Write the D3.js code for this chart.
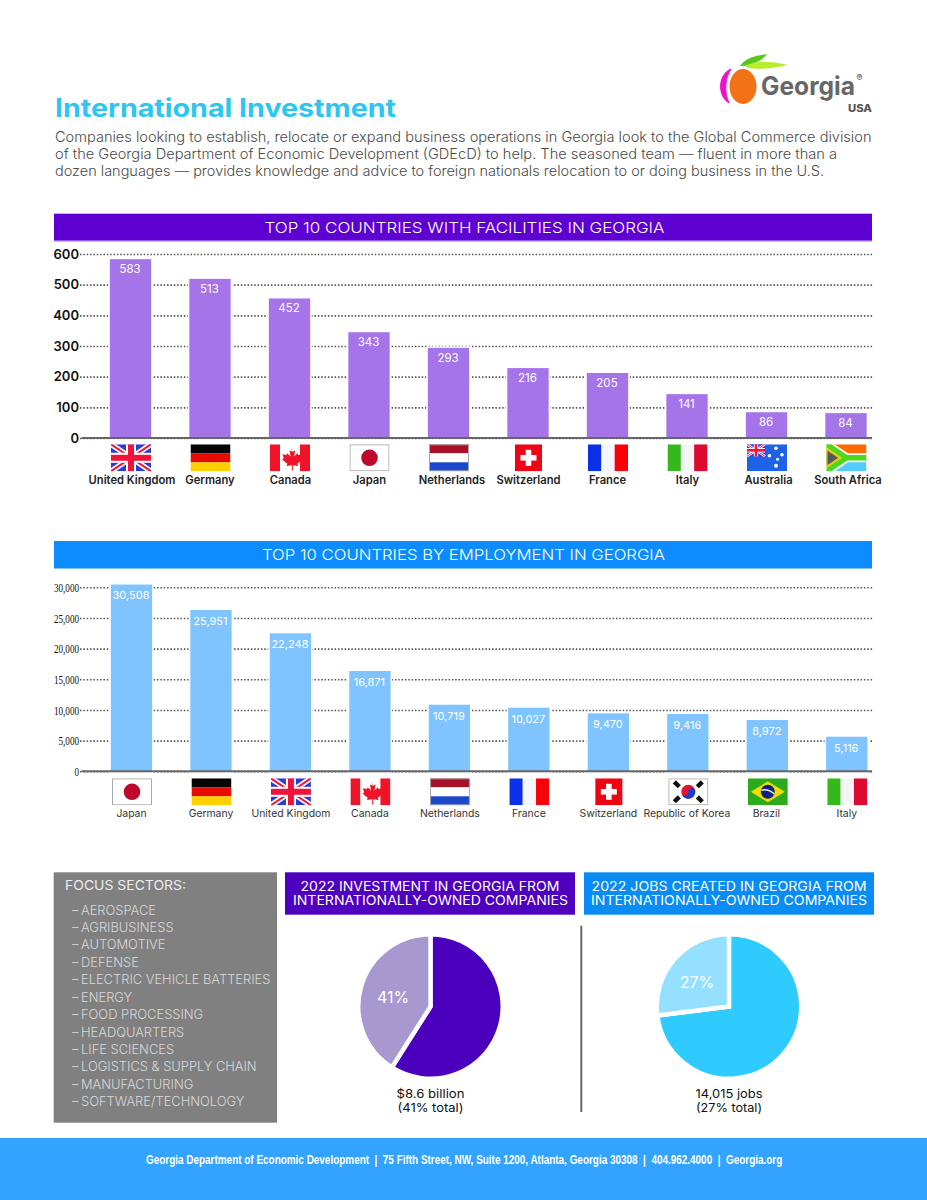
<!DOCTYPE html>
<html lang="en">
<head>
<meta charset="utf-8">
<title>International Investment</title>
<script src="https://cdn.jsdelivr.net/npm/d3@7"></script>
<style>
  body { margin: 0; background: #fff; }
  svg { display: block; }
  text { font-family: Inter, "Noto Sans", sans-serif; }
</style>
</head>
<body>
<div id="bod"></div>
<script>
let facilityCountries = ["United Kingdom", "Germany", "Canada", "Japan", "Netherlands", "Switzerland", "France", "Italy", "Australia", "South Africa"]
let facilityBars = [583, 519, 455, 345, 294, 228, 212, 143, 84, 81]
let facilityLabels = ["583", "513", "452", "343", "293", "216", "205", "141", "86", "84"]
let facilityTicks = [0, 100, 200, 300, 400, 500, 600]

// employment chart
let employmentCountries = ["Japan", "Germany", "United Kingdom", "Canada", "Netherlands", "France", "Switzerland", "Republic of Korea", "Brazil", "Italy"]
let employmentBars = [30450, 26300, 22500, 16350, 10860, 10370, 9450, 9340, 8360, 5640]
let employmentLabels = ["30,508", "25,951", "22,248", "16,871", "10,719", "10,027", "9,470", "9,416", "8,972", "5,116"]
let employmentTicks = [0, 5000, 10000, 15000, 20000, 25000, 30000]

// pies
let investmentShares = [59, 41]
let jobShares = [73, 27]

let sectors = ["AEROSPACE", "AGRIBUSINESS", "AUTOMOTIVE", "DEFENSE", "ELECTRIC VEHICLE BATTERIES", "ENERGY", "FOOD PROCESSING", "HEADQUARTERS", "LIFE SCIENCES", "LOGISTICS & SUPPLY CHAIN", "MANUFACTURING", "SOFTWARE/TECHNOLOGY"]

let introLines = [
  "Companies looking to establish, relocate or expand business operations in Georgia look to the Global Commerce division",
  "of the Georgia Department of Economic Development (GDEcD) to help. The seasoned team \u2014 fluent in more than a",
  "dozen languages \u2014 provides knowledge and advice to foreign nationals relocation to or doing business in the U.S."
]

let svg = d3.select("#bod").append("svg").attr("width", 927).attr("height", 1200)

let defs = svg.append("defs")
defs.append("clipPath").attr("id", "flagClip").append("rect").attr("width", 40).attr("height", 27)

// text with a forced width so the lines end where the originals end
function label(parent, str, x, y, size, color, weight, width, anchor) {
  let t = parent.append("text")
    .attr("x", x)
    .attr("y", y)
    .attr("dy", ".35em")
    .attr("font-size", size)
    .attr("font-weight", weight || 400)
    .attr("fill", color)
    .attr("text-anchor", anchor || "start")
    .text(str)
  if (width) t.attr("textLength", width).attr("lengthAdjust", "spacingAndGlyphs")
  return t
}

function box(g, x, y, w, h, color) {
  return g.append("rect").attr("x", x).attr("y", y).attr("width", w).attr("height", h).attr("fill", color)
}

function stripesH(g, colors) {
  let h = 27 / colors.length
  colors.forEach(function(c, i) { box(g, 0, i * h, 40, h + 0.1, c) })
}

function stripesV(g, colors) {
  let w = 40 / colors.length
  colors.forEach(function(c, i) { box(g, i * w, 0, w + 0.1, 27, c) })
}

function outline(g, w) {
  g.append("rect").attr("x", 0.5).attr("y", 0.5).attr("width", (w || 40) - 1).attr("height", 26)
    .attr("fill", "none").attr("stroke", "#a8a8a8").attr("stroke-width", 1)
}

function union(g, w, h) {
  let sw = h / 27
  box(g, 0, 0, w, h, "#2b3bd6")
  let diag = g.append("g")
  ;[[0, 0, w, h], [w, 0, 0, h]].forEach(function(l) {
    diag.append("line").attr("x1", l[0]).attr("y1", l[1]).attr("x2", l[2]).attr("y2", l[3]).attr("stroke", "#fff").attr("stroke-width", 5.5 * sw)
    diag.append("line").attr("x1", l[0]).attr("y1", l[1]).attr("x2", l[2]).attr("y2", l[3]).attr("stroke", "#f0143c").attr("stroke-width", 2 * sw)
  })
  box(g, w / 2 - 5 * sw, 0, 10 * sw, h, "#fff")
  box(g, 0, h / 2 - 5 * sw, w, 10 * sw, "#fff")
  box(g, w / 2 - 3 * sw, 0, 6 * sw, h, "#f0143c")
  box(g, 0, h / 2 - 3 * sw, w, 6 * sw, "#f0143c")
}

let flags = {
  "United Kingdom": function(g) { union(g, 40, 27) },
  "Germany": function(g) { stripesH(g, ["#050505", "#e60a00", "#ffcf00"]) },
  "Canada": function(g) {
    stripesV(g, ["#f01428", "#fff", "#fff", "#f01428"])
    g.append("path").attr("fill", "#f01428")
      .attr("transform", "translate(-3.6,-2.6) scale(1.18)")
      .attr("d", "M20 4.5l2.2 4 2.2-1.1-.9 5.2 2.8-2.9.7 1.6 3.4-.6-1.1 3.5 1.4.8-4.4 3.6.6 1.9-4.5-.6.1 4.6h-1l.1-4.6-4.5.6.6-1.9-4.4-3.6 1.4-.8-1.1-3.5 3.4.6.7-1.6 2.8 2.9-.9-5.2 2.2 1.1z")
  },
  "Japan": function(g) {
    box(g, 0, 0, 40, 27, "#fff")
    g.append("circle").attr("cx", 20).attr("cy", 13.5).attr("r", 8.3).attr("fill", "#bd0a2c")
    outline(g)
  },
  "Netherlands": function(g) {
    stripesH(g, ["#a8102a", "#fff", "#1c48cc"])
    outline(g)
  },
  "Switzerland": function(g) {
    box(g, 6.5, 0, 27, 27, "#ee0414")
    box(g, 17.2, 5.5, 5.6, 16, "#fff")
    box(g, 12, 10.7, 16, 5.6, "#fff")
  },
  "France": function(g) { stripesV(g, ["#0a30e8", "#f3f6fb", "#fa0008"]) },
  "Italy": function(g) { stripesV(g, ["#35b81c", "#f3f5f7", "#dc0a30"]) },
  "Australia": function(g) {
    box(g, 0, 0, 40, 27, "#1e62e8")
    union(g.append("g"), 18, 12)
    ;[[29, 4, 1.8], [22.5, 11.5, 1.8], [35, 10.5, 1.8], [30.5, 15, 1.5], [29, 21.5, 2]].forEach(function(s) {
      g.append("circle").attr("cx", s[0]).attr("cy", s[1]).attr("r", s[2]).attr("fill", "#fff")
    })
  },
  "South Africa": function(g) {
    box(g, 0, 0, 40, 13.5, "#ff6a00")
    box(g, 0, 13.5, 40, 13.5, "#55ccff")
    g.append("path").attr("d", "M0 0L20 13.5H40M0 27L20 13.5").attr("fill", "none").attr("stroke", "#fff").attr("stroke-width", 9)
    g.append("path").attr("d", "M0 0L20 13.5H40M0 27L20 13.5").attr("fill", "none").attr("stroke", "#4cd81c").attr("stroke-width", 5.5)
    g.append("path").attr("d", "M0 4.5L13.5 13.5L0 22.5Z").attr("fill", "#4e5a60").attr("stroke", "#f2c400").attr("stroke-width", 2)
  },
  "Republic of Korea": function(g) {
    box(g, 0, 0, 40, 27, "#fff")
    g.append("circle").attr("cx", 20).attr("cy", 13.5).attr("r", 7).attr("fill", "#e8142c")
    g.append("path").attr("d", "M13 13.5a3.5 3.5 0 0 0 7 0a3.5 3.5 0 0 1 7 0a7 7 0 0 1 -14 0").attr("fill", "#1a3fd0")
    ;[[8.5, 6, 45], [31.5, 6, -45], [8.5, 21, -45], [31.5, 21, 45]].forEach(function(b) {
      g.append("rect").attr("x", -3.5).attr("y", -2.2).attr("width", 7).attr("height", 4.4).attr("fill", "#111")
        .attr("transform", "translate(" + b[0] + "," + b[1] + ") rotate(" + b[2] + ")")
    })
    outline(g)
  },
  "Brazil": function(g) {
    box(g, 0, 0, 40, 27, "#2caa1e")
    g.append("path").attr("d", "M20 3L37 13.5L20 24L3 13.5Z").attr("fill", "#f2dc00")
    g.append("circle").attr("cx", 20).attr("cy", 13.5).attr("r", 7).attr("fill", "#12217e")
    g.append("path").attr("d", "M13.5 12Q20 10 26.5 15.5").attr("fill", "none").attr("stroke", "#d8f0e8").attr("stroke-width", 1.6)
  }
}

function drawChart(cfg) {
  let g = svg.append("g")

  let x = d3.scaleBand()
    .domain(cfg.countries)
    .range(cfg.xRange)
    .paddingInner(0.48)
    .paddingOuter(0.24)

  let y = d3.scaleLinear()
    .domain([0, d3.max(cfg.ticks)])
    .range([cfg.y0, cfg.yTop])

  let yAxis = d3.axisLeft(y)
    .tickValues(cfg.ticks)
    .tickSize(-792.5)
    .tickPadding(1)
    .tickFormat(cfg.tickFormat)

  let axisG = g.append("g").attr("transform", "translate(80,0)").call(yAxis)
  axisG.select(".domain").remove()
  axisG.selectAll("line")
    .attr("stroke", "#555")
    .attr("stroke-width", 1.6)
    .attr("stroke-dasharray", "1.5 1.85")
  axisG.selectAll("text")
    .attr("fill", "#111")
    .style("font-family", cfg.tickFont)
    .attr("font-size", cfg.tickSize)
    .attr("font-weight", cfg.tickWeight)
  if (cfg.tickSquash) {
    axisG.selectAll("text").each(function() {
      d3.select(this)
        .attr("textLength", this.getComputedTextLength() * cfg.tickSquash)
        .attr("lengthAdjust", "spacingAndGlyphs")
    })
  }

  g.selectAll(".bar")
    .data(cfg.bars)
    .enter().append("rect")
    .attr("class", "bar")
    .attr("x", function(d, i) { return x(cfg.countries[i]) })
    .attr("y", function(d) { return y(d) })
    .attr("width", x.bandwidth())
    .attr("height", function(d) { return cfg.y0 - y(d) })
    .attr("fill", cfg.barColor)
    .attr("stroke", "#fff")
    .attr("stroke-width", 3)
    .style("paint-order", "stroke")

  g.selectAll(".val")
    .data(cfg.labels)
    .enter().append("text")
    .attr("class", "val")
    .attr("x", function(d, i) { return x(cfg.countries[i]) + x.bandwidth() / 2 - 0.5 })
    .attr("y", function(d, i) { return y(cfg.bars[i]) + cfg.labelGap })
    .attr("dy", ".35em")
    .attr("text-anchor", "middle")
    .attr("fill", "#fff")
    .attr("font-size", cfg.labelSize)
    .attr("font-weight", 400)
    .text(function(d) { return d })

  g.append("line")
    .attr("x1", 81.5).attr("x2", 872)
    .attr("y1", cfg.y0).attr("y2", cfg.y0)
    .attr("stroke", "#666").attr("stroke-width", 2)

  let xAxis = d3.axisBottom(x).tickSize(0).tickPadding(cfg.namePad)
  let nameG = g.append("g").attr("transform", "translate(0," + cfg.y0 + ")").call(xAxis)
  nameG.select(".domain").remove()
  nameG.selectAll("text")
    .attr("fill", cfg.nameColor)
    .style("font-family", "Inter, sans-serif")
    .attr("font-size", cfg.nameSize)
    .attr("font-weight", cfg.nameWeight)
    .attr("dx", function(d, i) { return cfg.nameNudge[i] })

  cfg.countries.forEach(function(c) {
    let f = g.append("g")
      .attr("transform", "translate(" + (x(c) + x.bandwidth() / 2 - 19.5) + "," + (cfg.y0 + cfg.flagGap) + ")")
      .attr("clip-path", "url(#flagClip)")
    flags[c](f)
  })
}

function drawPie(cfg) {
  let g = svg.append("g").attr("transform", "translate(" + cfg.cx + ",1006.5)")
  let pie = d3.pie().sort(null)
  // white stroke makes the even gap between slices, radius allows for it
  let arc = d3.arc().innerRadius(0).outerRadius(72.2)
  g.selectAll("path")
    .data(pie(cfg.shares))
    .enter().append("path")
    .attr("d", arc)
    .attr("fill", function(d, i) { return cfg.colors[i] })
    .attr("stroke", "#fff")
    .attr("stroke-width", 4.4)
  label(svg, cfg.share, cfg.labelX, cfg.labelY, 16, "#fff", 400, null, "middle")
  label(svg, cfg.cap1, cfg.cx, 1094, 12, "#111", 400, cfg.capW1, "middle")
  label(svg, cfg.cap2, cfg.cx, 1108, 12, "#111", 400, cfg.capW2, "middle")
}

// logo
let logo = svg.append("g")
logo.append("path").attr("d", "M731 69C718 74 717 96 729 103C724 92 725 78 731 69Z").attr("fill", "#ec12c8").attr("stroke", "#ec12c8").attr("stroke-width", 1)
logo.append("ellipse").attr("cx", 743).attr("cy", 86.5).attr("rx", 13.5).attr("ry", 17.5).attr("fill", "#f47216")
logo.append("path").attr("d", "M740 66C745 58 754 56 767 54C763 60 752 66 740 66Z").attr("fill", "#58c81e")
logo.append("path").attr("d", "M745 66C755 61 766 60 788 65C775 68 760 70 748 68Z").attr("fill", "#b6ee2e")
label(logo, "Georgia", 761, 86, 25, "#666", 700, 94)
label(logo, "\u00ae", 856.5, 78, 9, "#666", 700)
label(logo, "USA", 848, 108, 10, "#555", 800, 24)

// title and intro
label(svg, "International Investment", 55, 108, 25, "#2dc6f2", 700, 341)
let lineEnds = [816.5, 782, 769]
introLines.forEach(function(l, i) {
  label(svg, l, 55, 137 + i * 16.9, 14, "#4a4a4a", 300, lineEnds[i])
})

// section banners
box(svg, 54, 213.7, 818, 27.5, "#5f00d2")
box(svg, 54, 240.2, 818, 1, "#a770f0")
label(svg, "TOP 10 COUNTRIES WITH FACILITIES IN GEORGIA", 464.5, 228, 15, "#fff", 300, 400, "middle")
box(svg, 54, 541, 818, 27.5, "#0d8cff")
label(svg, "TOP 10 COUNTRIES BY EMPLOYMENT IN GEORGIA", 463.5, 555, 15, "#fff", 300, 403, "middle")

drawChart({
  countries: facilityCountries, bars: facilityBars, labels: facilityLabels, ticks: facilityTicks,
  xRange: [90.75, 885.75], y0: 438, yTop: 254, barColor: "#a574e8",
  tickFormat: d3.format("d"), tickFont: "Inter, sans-serif", tickSize: 13, tickWeight: 600,
  labelGap: 10, labelSize: 11.5, namePad: 38, nameSize: 11.2, nameWeight: 600, nameColor: "#222", flagGap: 6.3,
  nameNudge: [1.5, 0, 1, 0.5, 3.5, 0.5, 0, 0.5, 2, 2]
})

drawChart({
  countries: employmentCountries, bars: employmentBars, labels: employmentLabels, ticks: employmentTicks,
  xRange: [91.75, 886.5], y0: 771.3, yTop: 587.3, barColor: "#80c4ff",
  tickFormat: d3.format(","), tickFont: "'Liberation Serif', serif", tickSize: 13, tickWeight: 400, tickSquash: 0.7,
  labelGap: 11, labelSize: 11, namePad: 38.5, nameSize: 10.4, nameWeight: 400, nameColor: "#333", flagGap: 7,
  nameNudge: [0, 0, 0.5, 0, 0.5, 0, 0, -1, -1, 0]
})

// focus sectors panel
box(svg, 53.7, 872.3, 223.3, 250.4, "#808080")
label(svg, "FOCUS SECTORS:", 65, 885.7, 13, "#eee", 400, 121)
sectors.forEach(function(s, i) {
  label(svg, "\u2013", 72, 910 + i * 17.43, 12.9, "#d8d8d8", 300)
  label(svg, s, 81, 910 + i * 17.43, 12.9, "#d8d8d8", 300)
})

// pie panels
box(svg, 285, 872.3, 290, 42.4, "#4f00bf")
label(svg, "2022 INVESTMENT IN GEORGIA FROM", 430, 886, 13, "#fff", 400, 259, "middle")
label(svg, "INTERNATIONALLY-OWNED COMPANIES", 430.5, 900, 13, "#fff", 400, 275, "middle")
box(svg, 584, 872.3, 290, 42.4, "#0a8cf5")
label(svg, "2022 JOBS CREATED IN GEORGIA FROM", 729, 886, 13, "#fff", 400, 275, "middle")
label(svg, "INTERNATIONALLY-OWNED COMPANIES", 729, 900, 13, "#fff", 400, 276, "middle")
svg.append("line").attr("x1", 581.3).attr("x2", 581.3).attr("y1", 925.7).attr("y2", 1112).attr("stroke", "#666").attr("stroke-width", 2)

drawPie({ cx: 430.5, shares: investmentShares, colors: ["#4a00bc", "#a898d0"], share: "41%", labelX: 393, labelY: 997,
  cap1: "$8.6 billion", cap2: "(41% total)", capW1: 68, capW2: 66 })
drawPie({ cx: 729, shares: jobShares, colors: ["#2fcbff", "#93e0ff"], share: "27%", labelX: 697, labelY: 982.7,
  cap1: "14,015 jobs", cap2: "(27% total)", capW1: 67, capW2: 66 })

// footer, squeezed sideways since none of the fonts here is condensed enough
box(svg, 0, 1138, 927, 62, "#33a3ff")
let footer = label(svg, "Georgia Department of Economic Development  |  75 Fifth Street, NW, Suite 1200, Atlanta, Georgia 30308  |  404.962.4000  |  Georgia.org", 0, 0, 13.5, "#fff", 700)
  .style("font-family", "'Liberation Sans', sans-serif")
  .style("white-space", "pre")
footer.attr("transform", "translate(146,1159.5) scale(" + (637 / footer.node().getComputedTextLength()) + ",1)")
</script>
</body>
</html>
